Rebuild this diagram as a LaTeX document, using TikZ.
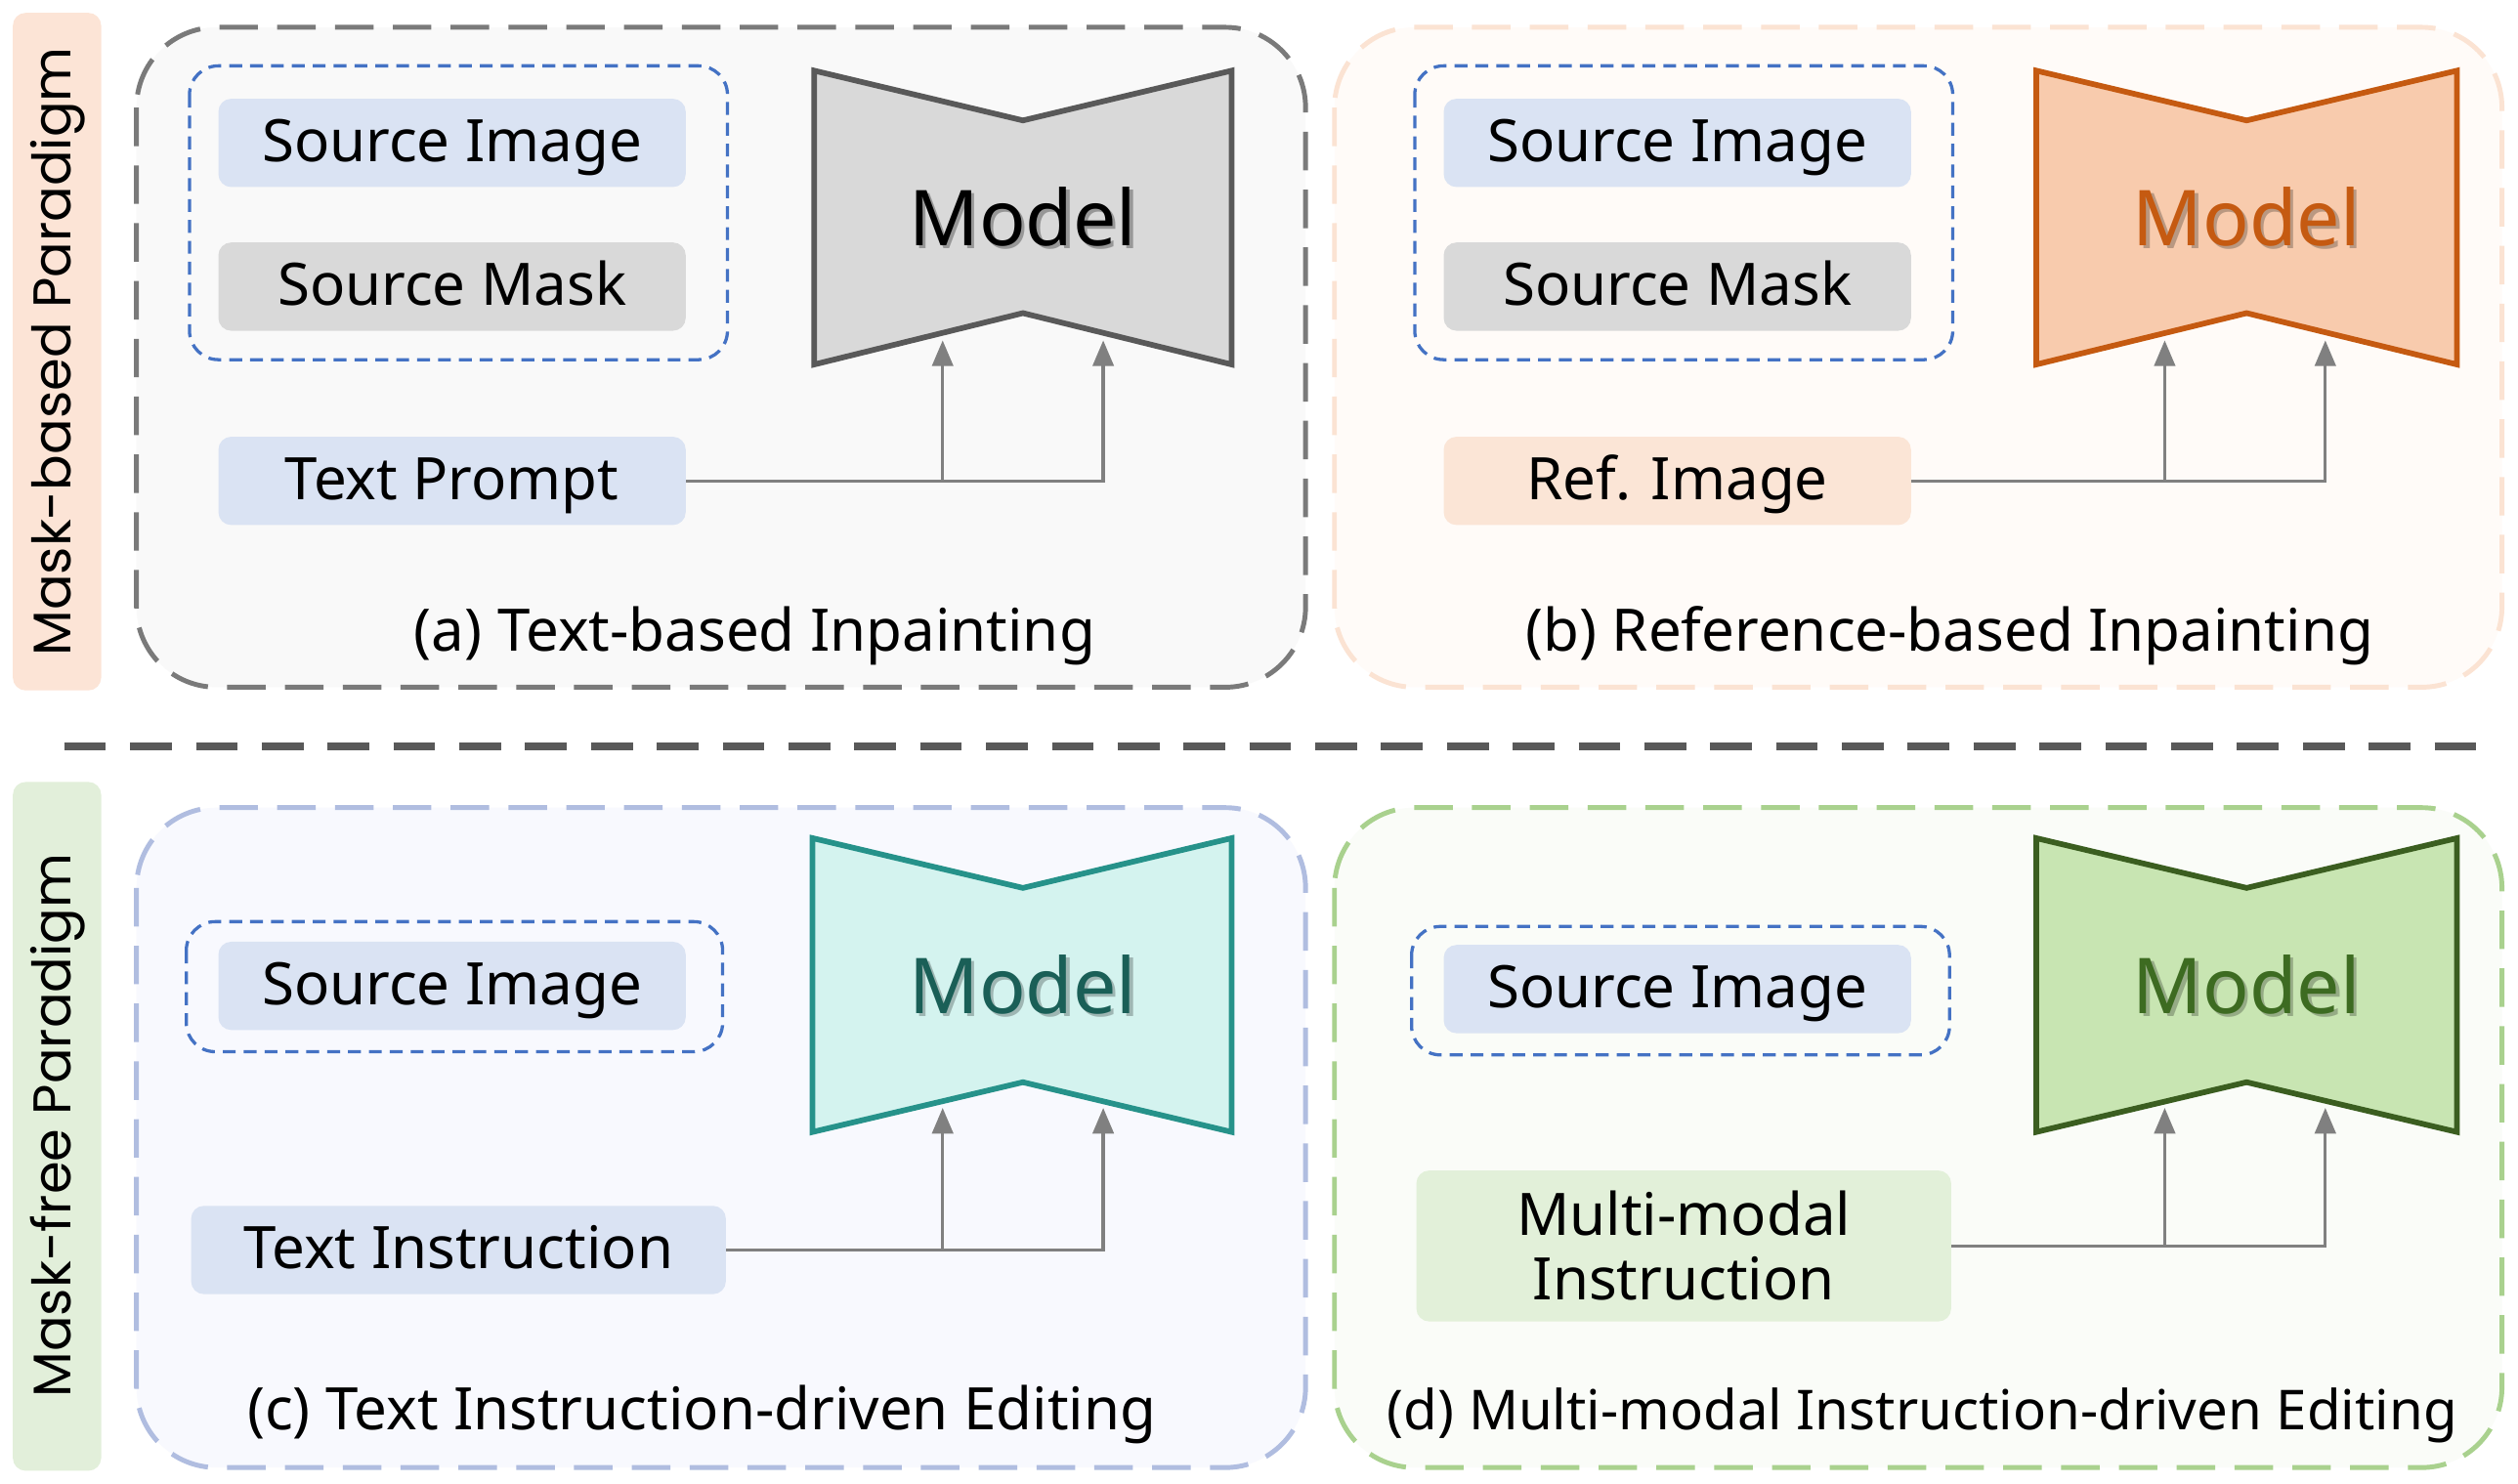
\documentclass[tikz,border=0pt]{standalone}
\usepackage{fontspec}
\setmainfont{Noto Sans}
\newfontfamily\geofont{Poppins}
\usetikzlibrary{arrows.meta}
\definecolor{panA}{HTML}{7A7A7A}
\definecolor{panAf}{HTML}{F9F9F9}
\definecolor{panB}{HTML}{FBE3D3}
\definecolor{panBf}{HTML}{FFFBF8}
\definecolor{panC}{HTML}{B0BDE0}
\definecolor{panCf}{HTML}{F8F9FE}
\definecolor{panD}{HTML}{A9D18E}
\definecolor{panDf}{HTML}{FAFCF8}
\definecolor{blueF}{HTML}{DAE3F3}
\definecolor{grayF}{HTML}{D9D9D9}
\definecolor{peachF}{HTML}{FBE5D6}
\definecolor{greenF}{HTML}{E2F0D9}
\definecolor{dashblue}{HTML}{4472C4}
\definecolor{connc}{HTML}{808080}
\definecolor{sepc}{HTML}{595959}
\definecolor{mAf}{HTML}{D9D9D9}
\definecolor{mAs}{HTML}{595959}
\definecolor{mBf}{HTML}{F8CBAD}
\definecolor{mBs}{HTML}{C55A11}
\definecolor{mCf}{HTML}{D4F3EF}
\definecolor{mCs}{HTML}{26928A}
\definecolor{mCt}{HTML}{1A5F57}
\definecolor{mDf}{HTML}{C8E5B2}
\definecolor{mDs}{HTML}{3B5E20}
\definecolor{mDt}{HTML}{3D6B21}
\definecolor{stripA}{HTML}{FCE4D6}
\definecolor{stripB}{HTML}{E2EFDA}
\begin{document}
\begin{tikzpicture}[x=1pt,y=-1pt,
  panel/.style={line width=3pt,dash pattern=on 24pt off 12pt,rounded corners=50pt},
  group/.style={draw=dashblue,line width=2pt,dash pattern=on 8pt off 5pt,rounded corners=18pt},
  inbox/.style={rounded corners=8pt,minimum width=291pt,minimum height=55pt,inner sep=0pt,
    font=\fontsize{36.5}{40}\selectfont,text=black,text height=29pt,text depth=6pt},
  caption/.style={font=\fontsize{36.5}{40}\selectfont,text=black,inner sep=0pt,text height=29pt,text depth=6pt},
  modeltxt/.style={font=\fontsize{48}{56}\selectfont,inner sep=0pt},
  modelshape/.style={line width=3.5pt,line join=miter},
  conn/.style={draw=connc,line width=2pt},
  arr/.style={conn,-{Triangle[length=16pt,width=13pt]}},
  striplbl/.style={font=\geofont\fontsize{33}{38}\selectfont,rotate=90,text=black,inner sep=0pt}
]
\useasboundingbox (0,0) rectangle (1568,924);
\fill[white] (0,0) rectangle (1568,924);

% side strips
\fill[stripA,rounded corners=8pt] (8,8) rectangle (63,430);
\fill[stripB,rounded corners=8pt] (8,487) rectangle (63,916);
\node[striplbl] (lblA) at (36,219) {Mask-based Paradigm};
\node[striplbl] (lblB) at (36,701) {Mask-free Paradigm};

% panels
\draw[panel,draw=panA,fill=panAf] (85,17) rectangle (813,428);
\draw[panel,draw=panB,fill=panBf] (831,17) rectangle (1558,428);
\draw[panel,draw=panC,fill=panCf] (85,503) rectangle (813,914);
\draw[panel,draw=panD,fill=panDf] (831,503) rectangle (1558,914);

% separator
\draw[sepc,line width=5pt,dash pattern=on 26pt off 15pt] (40,465) -- (1548,465);

% ---------- (a)
\draw[group] (118,41) rectangle (453,224);
\node[inbox,fill=blueF] (aSI) at (281.5,89) {Source Image};
\node[inbox,fill=grayF] (aSM) at (281.5,178.5) {Source Mask};
\node[inbox,fill=blueF] (aTP) at (281.5,299.5) {Text Prompt};
\draw[modelshape,fill=mAf,draw=mAs] (507,44) -- (637,75) -- (767,44) -- (767,227) -- (637,195) -- (507,227) -- cycle;
\node[modeltxt,text=black,opacity=0.3] at (639,137) {Model};
\node[modeltxt,text=black] (aM) at (637,135) {Model};
\coordinate (aA1) at (587,212);
\coordinate (aA2) at (687,212);
\draw[arr] (aTP.east) -| (aA2);
\draw[arr] (aTP.east -| aA1) -- (aA1);
\node[caption] (aC) at (470,394) {(a) Text-based Inpainting};

% ---------- (b)
\draw[group] (881,41) rectangle (1216,224);
\node[inbox,fill=blueF] (bSI) at (1044.5,89) {Source Image};
\node[inbox,fill=grayF] (bSM) at (1044.5,178.5) {Source Mask};
\node[inbox,fill=peachF] (bRI) at (1044.5,299.5) {Ref. Image};
\draw[modelshape,fill=mBf,draw=mBs] (1268,44) -- (1399,75) -- (1530,44) -- (1530,227) -- (1399,195) -- (1268,227) -- cycle;
\node[modeltxt,text=black,opacity=0.25] at (1401,137) {Model};
\node[modeltxt,text=mBs] (bM) at (1399,135) {Model};
\coordinate (bA1) at (1348,212);
\coordinate (bA2) at (1448,212);
\draw[arr] (bRI.east) -| (bA2);
\draw[arr] (bRI.east -| bA1) -- (bA1);
\node[caption] (bC) at (1214,394) {(b) Reference-based Inpainting};

% ---------- (c)
\draw[group] (116,574) rectangle (450,655);
\node[inbox,fill=blueF] (cSI) at (281.5,614) {Source Image};
\node[inbox,fill=blueF,minimum width=333pt] (cTI) at (285.5,778.5) {Text Instruction};
\draw[modelshape,fill=mCf,draw=mCs] (506,522) -- (637,553) -- (767,522) -- (767,705) -- (637,674) -- (506,705) -- cycle;
\node[modeltxt,text=black,opacity=0.25] at (639,615) {Model};
\node[modeltxt,text=mCt] (cM) at (637,613) {Model};
\coordinate (cA1) at (587,690);
\coordinate (cA2) at (687,690);
\draw[arr] (cTI.east) -| (cA2);
\draw[arr] (cTI.east -| cA1) -- (cA1);
\node[caption] (cC) at (437,879) {(c) Text Instruction-driven Editing};

% ---------- (d)
\draw[group] (879,577) rectangle (1214,657);
\node[inbox,fill=blueF] (dSI) at (1044.5,616) {Source Image};
\node[inbox,fill=greenF,minimum width=333pt,minimum height=94pt,align=center,text height=,text depth=,
  font=\fontsize{36.5}{40}\selectfont] (dMI) at (1048.5,776) {Multi-modal\\Instruction};
\draw[modelshape,fill=mDf,draw=mDs] (1268,522) -- (1399,553) -- (1530,522) -- (1530,705) -- (1399,674) -- (1268,705) -- cycle;
\node[modeltxt,text=black,opacity=0.25] at (1401,615) {Model};
\node[modeltxt,text=mDt] (dM) at (1399,613) {Model};
\coordinate (dA1) at (1348,690);
\coordinate (dA2) at (1448,690);
\draw[arr] (dMI.east) -| (dA2);
\draw[arr] (dMI.east -| dA1) -- (dA1);
\node[caption,font=\fontsize{34.3}{40}\selectfont] (dC) at (1197,879) {(d) Multi-modal Instruction-driven Editing};
\end{tikzpicture}
\end{document}
